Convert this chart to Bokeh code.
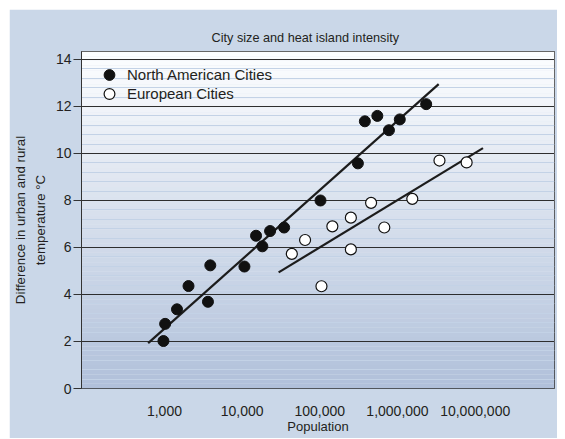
from bokeh.plotting import figure
from bokeh.models import (Range1d, FixedTicker, NumeralTickFormatter, SingleIntervalTicker,
                          BoxAnnotation, Legend, LegendItem, Title)
from bokeh.embed import file_html
from bokeh.resources import INLINE

# ---------------- data ----------------
title_text = "City size and heat island intensity"
x_label = "Population"
y_label = "Difference in urban and rural\ntemperature \u00b0C"
x_ticks = [1000, 10000, 100000, 1000000, 10000000]

na_label = "North American Cities"
na_pop = [970, 1020, 1450, 2040, 3630, 3890, 10700, 15100, 18200, 22900, 34700,
          102000, 309000, 380000, 550000, 776000, 1070000, 2340000]
na_diff = [2.02, 2.75, 3.37, 4.36, 3.69, 5.24, 5.19, 6.5, 6.05, 6.7, 6.85,
           8.0, 9.58, 11.37, 11.6, 10.99, 11.45, 12.1]

eu_label = "European Cities"
eu_pop = [43600, 64600, 105000, 145000, 251000, 251000, 457000, 676000,
          1550000, 3470000, 7760000]
eu_diff = [5.73, 6.32, 4.35, 6.9, 7.27, 5.92, 7.9, 6.85, 8.07, 9.7, 9.62]

na_fit_pop = [617, 3390000]
na_fit_diff = [1.93, 12.95]
eu_fit_pop = [29500, 12600000]
eu_fit_diff = [4.94, 10.23]

# ---------------- figure ----------------
FONT = "Liberation Sans"
TXT = "#231f20"
panel = "#cad7e8"

W, H = 548, 429
BL, BR, BT, BB = 72, 3, 42, 50
FRAME_H = H - BT - BB

y_top = 14.34
p = figure(width=W, height=H, x_axis_type="log",
           x_range=Range1d(85.5, 1.05e8), y_range=Range1d(0, y_top),
           output_backend="svg", toolbar_location=None,
           min_border_left=BL, min_border_right=BR, min_border_top=BT, min_border_bottom=BB,
           border_fill_color=panel, background_fill_color="#dfe7f1",
           outline_line_color="#333333", outline_line_width=1)
p.margin = (9, 0, 0, 9)

p.title = Title(text=title_text, align="left", offset=130, standoff=14,
                text_font=FONT, text_font_size="12.7px", text_font_style="normal",
                text_color=TXT)

# vertical gradient in the plot area (white at top -> blue at bottom)
n = 72
bot = (176, 192, 218)
top = (253, 254, 255)
for i in range(n):
    t = (i + 0.5) / n
    c = tuple(int(round(bot[k] + (top[k] - bot[k]) * t)) for k in range(3))
    y0 = y_top * i / n
    y1 = y_top * (i + 1) / n if i < n - 1 else None
    p.add_layout(BoxAnnotation(bottom=y0, top=y1, fill_color="#%02x%02x%02x" % c,
                               fill_alpha=1, line_alpha=0, level="image"))

# axes
yticker = SingleIntervalTicker(interval=2, num_minor_ticks=5)
yax = p.yaxis[0]
yax.ticker = yticker
yax.major_tick_out = 8
yax.major_tick_in = 0
yax.minor_tick_line_color = None
yax.major_tick_line_color = "#333333"
yax.axis_line_color = "#333333"
yax.major_label_standoff = 2
yax.major_label_text_font = FONT
yax.major_label_text_font_size = "14px"
yax.major_label_text_color = TXT
yax.axis_label = y_label
yax.axis_label_text_font = FONT
yax.axis_label_text_font_size = "13.3px"
yax.axis_label_text_font_style = "normal"
yax.axis_label_text_color = TXT
yax.axis_label_standoff = 5
yax.axis_label_text_line_height = 1.3

xax = p.xaxis[0]
xax.ticker = FixedTicker(ticks=x_ticks, minor_ticks=[])
xax.formatter = NumeralTickFormatter(format="0,0")
xax.major_tick_line_color = None
xax.minor_tick_line_color = None
xax.axis_line_color = None
xax.major_label_standoff = 11
xax.major_label_text_font = FONT
xax.major_label_text_font_size = "14px"
xax.major_label_text_color = TXT
xax.axis_label = x_label
xax.axis_label_text_font = FONT
xax.axis_label_text_font_size = "13px"
xax.axis_label_text_font_style = "normal"
xax.axis_label_text_color = TXT
xax.axis_label_standoff = 0

p.xgrid.grid_line_color = None
p.ygrid.ticker = yticker
p.ygrid.grid_line_color = "#2e2e2e"
p.ygrid.grid_line_width = 1.2
p.ygrid.minor_grid_line_color = "#c3d2e6"
p.ygrid.minor_grid_line_width = 1.2

# fitted lines
p.line(na_fit_pop, na_fit_diff, line_color="#1c1c1c", line_width=2.2)
p.line(eu_fit_pop, eu_fit_diff, line_color="#1c1c1c", line_width=2.2)

# points
na = p.scatter(na_pop, na_diff, marker="circle", size=11,
               fill_color="#111111", line_color="#111111", line_width=1)
eu = p.scatter(eu_pop, eu_diff, marker="circle", size=11,
               fill_color="white", line_color="#111111", line_width=1.2)

# legend: one entry per legend box so rows can sit closer than the glyph box
GW, GH = 34, 27
common = dict(padding=0, margin=0, glyph_width=GW, glyph_height=GH, label_standoff=1,
              background_fill_alpha=0, border_line_color=None,
              label_text_font=FONT, label_text_font_size="15px", label_text_color=TXT)
leg1 = Legend(items=[LegendItem(label=na_label, renderers=[na])],
              location=(11, FRAME_H - 10 - GH), **common)
leg2 = Legend(items=[LegendItem(label=eu_label, renderers=[eu])],
              location=(11, FRAME_H - 28.5 - GH), **common)
p.add_layout(leg1)
p.add_layout(leg2)

open("out.html", "w").write(file_html(p, INLINE))
